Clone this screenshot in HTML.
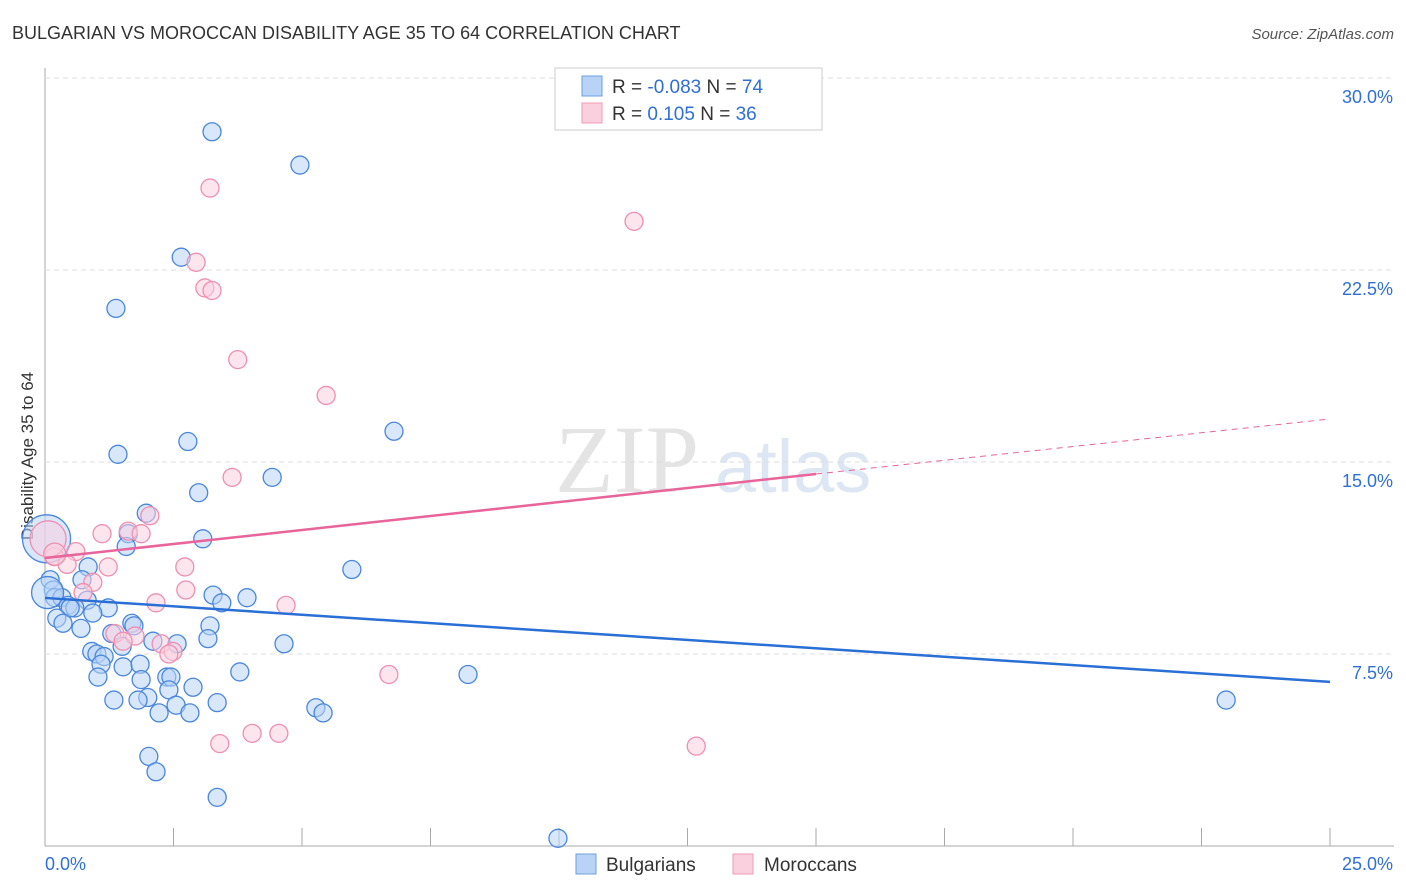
<!DOCTYPE html>
<html><head><meta charset="utf-8"><style>
body{margin:0;background:#fff;font-family:"Liberation Sans",sans-serif}
</style></head><body>
<svg id="chart" width="1406" height="892" xmlns="http://www.w3.org/2000/svg" style="display:block">
<text x="12" y="39" font-size="18" fill="#333">BULGARIAN VS MOROCCAN DISABILITY AGE 35 TO 64 CORRELATION CHART</text>
<text x="1394" y="39" font-size="15" fill="#555" text-anchor="end" font-style="italic">Source: ZipAtlas.com</text>
<text x="555" y="492" font-size="96" fill="#e4e4e4" font-family="Liberation Serif">ZIP</text>
<text x="715" y="492" font-size="74" fill="#dde7f3">atlas</text>
<text transform="translate(33,456) rotate(-90)" font-size="17" fill="#333" text-anchor="middle">Disability Age 35 to 64</text>
<g id="grid"></g><g id="marks"></g>
<g>
<rect x="555" y="68" width="267" height="62" fill="#fff" stroke="#ccc"/>
<rect x="582" y="76" width="20" height="20" fill="#b8d3f5" stroke="#6a9fe0"/>
<rect x="582" y="103" width="20" height="20" fill="#fbd0de" stroke="#ef9ab7"/>
<text x="612" y="93" font-size="19" fill="#333">R = <tspan fill="#2f6fd6">-0.083</tspan>   N = <tspan fill="#2f6fd6">74</tspan></text>
<text x="612" y="120" font-size="19" fill="#333">R =   <tspan fill="#2f6fd6">0.105</tspan>   N = <tspan fill="#2f6fd6">36</tspan></text>
</g>
<g>
<rect x="576" y="854" width="20" height="20" fill="#b8d3f5" stroke="#6a9fe0"/>
<text x="606" y="871" font-size="19" fill="#333">Bulgarians</text>
<rect x="733" y="854" width="20" height="20" fill="#fbd0de" stroke="#ef9ab7"/>
<text x="764" y="871" font-size="19" fill="#333">Moroccans</text>
</g>
</svg>
<script>
const xTicks=[0,2.5,5,7.5,10,12.5,15,17.5,20,22.5,25];
const yTicks=[7.5,15,22.5,30];
const yTickLabels=["7.5%","15.0%","22.5%","30.0%"];
const bulgX=[32.5,49.6,26.5,13.8,67.9,27.8,14.2,44.2,29.9,19.7,30.7,16.2,15.8,59.7,8.4,1.0,1.6,7.2,1.9,3.3,8.2,32.7,39.3,34.4,4.5,5.8,4.9,12.3,9.3,2.3,3.5,7.0,16.9,17.3,32.1,13.0,31.7,21.0,25.7,46.5,9.1,15.0,10.1,11.5,10.9,15.2,18.5,37.9,82.3,10.3,23.7,24.5,18.7,28.8,20.0,24.1,13.4,18.1,33.5,25.5,52.7,22.2,28.2,54.1,20.2,21.6,33.5,99.8,229.8,0.3,0.5];
const bulgY=[27.9,26.6,23.0,21.0,16.2,15.8,15.3,14.4,13.8,13.0,12.0,12.2,11.7,10.8,10.9,10.4,10.0,10.4,9.7,9.7,9.6,9.8,9.7,9.5,9.4,9.3,9.3,9.3,9.1,8.9,8.7,8.5,8.7,8.6,8.6,8.3,8.1,8.0,7.9,7.9,7.6,7.8,7.5,7.4,7.1,7.0,7.1,6.8,6.7,6.6,6.6,6.6,6.5,6.2,5.8,6.1,5.7,5.7,5.6,5.5,5.4,5.2,5.2,5.2,3.5,2.9,1.9,0.3,5.7,12.0,9.9];
const bulgR=[9,9,9,9,9,9,9,9,9,9,9,9,9,9,9,9,9,9,9,9,9,9,9,9,9,9,9,9,9,9,9,9,9,9,9,9,9,9,9,9,9,9,9,9,9,9,9,9,9,9,9,9,9,9,9,9,9,9,9,9,9,9,9,9,9,9,9,9,9,24,16];
const morX=[32.1,114.6,29.4,31.1,32.5,37.5,54.7,36.4,20.4,11.1,16.2,18.7,6.0,1.8,4.3,12.3,27.2,9.3,7.4,27.4,21.6,46.9,13.6,17.5,15.2,22.6,24.9,24.1,66.9,34.0,40.3,45.5,126.7,0.6,1.9];
const morY=[25.7,24.4,22.8,21.8,21.7,19.0,17.6,14.4,12.9,12.2,12.3,12.2,11.5,11.3,11.0,10.9,10.9,10.3,9.9,10.0,9.5,9.4,8.3,8.2,8.0,7.9,7.6,7.5,6.7,4.0,4.4,4.4,3.9,12.0,11.4];
const morR=[9,9,9,9,9,9,9,9,9,9,9,9,9,9,9,9,9,9,9,9,9,9,9,9,9,9,9,9,9,9,9,9,9,18,11];
const blueTrend=[9.69,6.41];
const pinkTrend=[11.25,14.53,16.68];
const X0=45,X1=1330,Y0=846,YTOP=78;
const x=v=>X0+v/25*(X1-X0);
const y=v=>Y0-v/30*(Y0-YTOP);
const NS="http://www.w3.org/2000/svg";
function mk(t,a,p){const e=document.createElementNS(NS,t);for(const k in a)e.setAttribute(k,a[k]);p.appendChild(e);return e;}
const grid=document.getElementById('grid'),marks=document.getElementById('marks');
const ax=mk('line',{x1:X0,x2:X0,y1:68,y2:Y0,stroke:'#aaa'},grid);


const bx=mk('line',{x1:X0,x2:1394,y1:Y0,y2:Y0,stroke:'#aaa'},grid);


yTicks.forEach((v,i)=>{
 const g=mk('line',{x1:X0,x2:1394,y1:y(v),y2:y(v),stroke:'#ddd','stroke-dasharray':'5,4'},grid);
 
 
 const t=mk('text',{x:1393,y:y(v)+25,'font-size':18,fill:'#2f6fd6','text-anchor':'end'},grid);
 t.textContent=yTickLabels[i];
 
 
});
xTicks.forEach(v=>{
 const l=mk('line',{x1:x(v),x2:x(v),y1:Y0,y2:Y0-18,stroke:'#aaa'},grid);
 
 
});
const xl=mk('text',{x:45,y:870,'font-size':18,fill:'#2f6fd6'},grid);xl.textContent='0.0%';


const xr=mk('text',{x:1393,y:870,'font-size':18,fill:'#2f6fd6','text-anchor':'end'},grid);xr.textContent='25.0%';


const px=v=>x(v/10*25/25*2.5/2.5*0.1*10/10*1)*0+X0+(v/10)*(X1-X0)/25*10/10*1;
// bulgX/morX are stored in tenths of a percent units
function pt(xv,yv,r,fill,stroke,name){
 const c=mk('circle',{cx:x(xv/10),cy:y(yv),r:r,fill:fill,'fill-opacity':0.55,stroke:stroke,'stroke-width':1.3},marks);
 
 
}
bulgX.forEach((v,i)=>pt(v,bulgY[i],bulgR[i],'#b8d3f5','#4a86dc','bulgarian-point'));
morX.forEach((v,i)=>pt(v,morY[i],morR[i],'#fbd0de','#ee8fb0','moroccan-point'));
const bl=mk('line',{x1:x(0),y1:y(blueTrend[0]),x2:x(25),y2:y(blueTrend[1]),stroke:'#2a6fd6','stroke-width':2.5},marks);


const pl=mk('line',{x1:x(0),y1:y(pinkTrend[0]),x2:x(15),y2:y(pinkTrend[1]),stroke:'#e8649a','stroke-width':2.5},marks);


const pd=mk('line',{x1:x(15),y1:y(pinkTrend[1]),x2:x(25),y2:y(pinkTrend[2]),stroke:'#e8649a','stroke-width':1,'stroke-dasharray':'6,5'},marks);


</script>
</body></html>
